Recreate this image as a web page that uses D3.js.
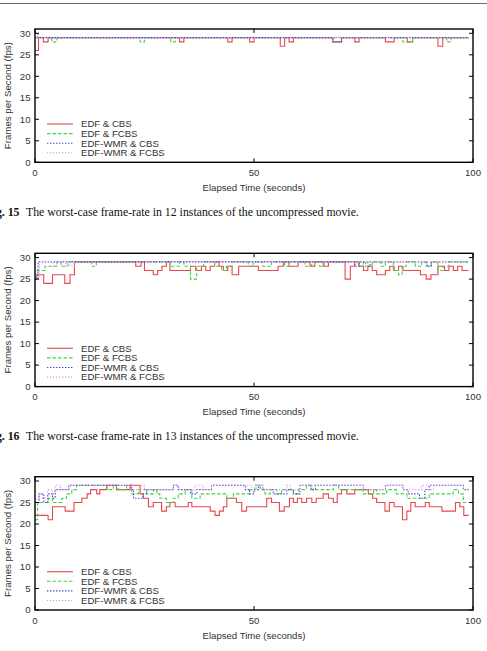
<!DOCTYPE html>
<html>
<head>
<meta charset="utf-8">
<script src="https://cdn.jsdelivr.net/npm/d3@7"></script>
<style>
  html, body { margin: 0; padding: 0; background: #fff; }
  svg { display: block; }
</style>
</head>
<body>
<svg id="page" width="487" height="651"></svg>
<script>
// step data: [seconds, fps] pairs, each value holds until the next pair
const seriesNames = ['EDF & CBS', 'EDF & FCBS', 'EDF-WMR & CBS', 'EDF-WMR & FCBS'];
const xTicks = [0, 50, 100];
const yTicks = [0, 5, 10, 15, 20, 25, 30];

const fig15_cbs = [[0,26],[0.8,29],[1.9,28],[3,29],[33,28],[34,29],[44,28],[45,29],[49,28],[50,29],[56,27],[57,29],[58,28],[59,29],[68,28],[70,29],[73,28],[74,29],[80,28],[82,29],[85,28],[86.2,29],[92,27],[93.1,29],[99,29]];
const fig15_fcbs = [[0,29],[3.8,28],[5,29],[24,28],[25,29],[31,28],[32,29],[84,28],[86.2,29],[94,28],[95,29],[99,29]];
const fig15_wmrCbs = [[0,30],[0.7,29],[68,28],[70,29],[99,29]];
const fig15_wmrFcbs = [[0,29],[99,29]];

const fig16_cbs = [[0,25],[0.4,26],[2,24],[4,26],[6.8,24],[8,26],[9,29],[23,28],[24.2,29],[25,27],[27,26],[28,27],[29,28],[30,29],[30.8,27],[35.5,28],[36.7,27],[38,28],[39,27],[40,28],[41,29],[42,28],[43,27],[44,28],[45,26],[46.5,28],[51,27],[55.5,28],[56.7,29],[58,28],[60.1,29],[62.8,28],[63.9,29],[65.8,28],[67,29],[70.8,25],[72,28],[73,29],[74,28],[75,27],[76,28],[77,27],[78,26],[80,27],[81,28],[82,27],[83,28],[84,27],[88,26],[89.3,25],[90.4,26],[92,28],[93.5,27],[94.5,28],[95.5,27],[96.5,28],[97.5,27],[99,27]];
const fig16_fcbs = [[0,26],[0.5,27],[2.3,28],[5,29],[6,28],[7.5,29],[12.9,28],[14,29],[30.8,28],[33,29],[34,28],[35.5,25],[36.9,28],[38.5,29],[41,28],[42.6,27],[43.7,28],[45,29],[48.7,28],[49.8,29],[52,28],[54,29],[57,28],[58,29],[61.6,28],[63.2,29],[65,28],[66,29],[73.8,28],[75,29],[76,28],[77,29],[79,28],[80,29],[81.8,27],[83,26],[83.8,28],[84.8,29],[86.8,28],[88.3,29],[89.3,28],[90.4,29],[92,27],[93.2,28],[94.5,29],[99,29]];
const fig16_wmrCbs = [[0,25],[0.7,29],[73,28],[74,29],[75.5,28],[76.5,29],[89.5,28],[90.5,29],[99,29]];
const fig16_wmrFcbs = [[0,25],[1,29],[4.2,28],[5,29],[6,28],[7,29],[8,28],[9,29],[99,29]];

const fig17_cbs = [[0,22],[3,21],[4,24],[6.9,23],[8.9,25],[10.7,26],[11.9,27],[12.7,28],[14.1,27],[14.8,28],[16.4,29],[18.6,28],[21.7,29],[24,27],[24.7,26],[25.9,24],[27,25],[28.9,23],[30,24],[30.8,25],[32,24],[35,25],[35.8,24],[40,23],[41.1,22],[42.1,23],[43,24],[43.8,26],[46,25],[47.2,23],[48.3,24],[52.9,26],[54,25],[55.8,23],[56.9,24],[58.1,26],[59,25],[59.9,26],[60.9,25],[62,26],[63.2,25],[64.2,26],[65.8,27],[67,26],[68.1,25],[69,27],[70,28],[71.2,27],[73,28],[76.1,27],[77.1,26],[78,25],[79.9,23],[80.9,25],[82,24],[83.9,21],[84.9,23],[85.8,25],[86.8,24],[89.1,25],[90,24],[92.9,23],[96,25],[97,24],[97.9,22],[99,22]];
const fig17_fcbs = [[0,21],[0.6,25],[3.1,26],[4,25],[6.1,26],[7.2,27],[8.4,28],[9.5,29],[16.4,28],[17.9,29],[19,28],[20.9,29],[22,27],[23.6,28],[25.5,27],[27,28],[27.8,27],[28.5,26],[30,25],[31.6,26],[32.7,27],[34.3,28],[35.8,26],[37.7,27],[43.8,26],[45.3,27],[49,28],[50.2,29],[51.4,28],[52.5,27],[53.7,28],[55.2,27],[56.3,28],[59,27],[60.1,28],[62,29],[63.2,28],[68.1,29],[69.3,28],[74.9,27],[77.3,28],[78,27],[80.3,28],[82.5,27],[84.9,26],[90,27],[95.5,28],[96.7,27],[97.8,25],[99,25]];
const fig17_wmrCbs = [[0,25],[0.9,27],[2,25],[2.9,27],[4,26],[4.6,28],[7.7,29],[22,28],[22.5,26],[24.7,27],[25.5,28],[31.6,29],[32.7,28],[35.5,27],[37,28],[40.3,29],[48,28],[49,27],[50,28],[51,29],[52,28],[54.4,27],[57.5,28],[59,27],[60.5,29],[63,28],[64,29],[75,28],[80,29],[84,28],[85.2,27],[87.8,26],[89,28],[90,29],[97.8,28],[99,28]];
const fig17_wmrFcbs = [[0,26],[0.9,27],[1.7,26],[2.9,28],[4,27],[4.6,29],[5.8,28],[7.7,29],[22,28],[24,29],[25,28],[31.6,29],[32.7,28],[36.5,29],[38.4,28],[40.3,29],[49.5,28],[50.6,29],[52,28],[57.5,29],[58.3,28],[60.5,29],[75,28],[80,29],[84,28],[88.3,29],[89.8,28],[91,29],[97.8,28],[99,28]];

const captions = [
  ['Fig. 15', 'The worst-case frame-rate in 12 instances of the uncompressed movie.'],
  ['Fig. 16', 'The worst-case frame-rate in 13 instances of the uncompressed movie.']
];

const styles = [
  {color: '#e8474d', dash: null, width: 1.1},
  {color: '#3fd63f', dash: '3.5,2', width: 1.1},
  {color: '#4545d8', dash: '1.4,1.6', width: 1.1},
  {color: '#e88ae8', dash: '1.2,1.8', width: 1.1}
];

const svg = d3.select('#page');
const left = 35, right = 473, plotH = 133.3;
const tops = [29, 253.3, 476.7];

svg.append('line')
  .attr('x1', 0).attr('x2', 487).attr('y1', 3.5).attr('y2', 3.5)
  .attr('stroke', '#6b6b6b').attr('stroke-width', 1);

function drawChart(top, data) {
  const bottom = top + plotH;
  const x = d3.scaleLinear().domain([0, 100]).range([left, right]);
  const y = d3.scaleLinear().domain([0, 31]).range([bottom, top]);
  const g = svg.append('g');
  const font = 'Liberation Sans, Arial, sans-serif';

  // series
  const line = d3.line().x(d => x(d[0])).y(d => y(d[1])).curve(d3.curveStepAfter);
  data.forEach((s, i) => {
    g.append('path').datum(s)
      .attr('d', line)
      .attr('fill', 'none')
      .attr('stroke', styles[i].color)
      .attr('stroke-width', styles[i].width)
      .attr('stroke-dasharray', styles[i].dash);
  });

  // ticks (inward, mirrored)
  const tickLen = 4;
  yTicks.forEach(v => {
    g.append('line').attr('x1', left).attr('x2', left + tickLen).attr('y1', y(v)).attr('y2', y(v)).attr('stroke', '#000');
    g.append('line').attr('x1', right).attr('x2', right - tickLen).attr('y1', y(v)).attr('y2', y(v)).attr('stroke', '#000');
    g.append('text').attr('x', left - 4.5).attr('y', y(v)).attr('dy', '0.35em')
      .attr('text-anchor', 'end').attr('font-family', font).attr('font-size', 9.6)
      .attr('fill', '#333').text(v);
  });
  xTicks.forEach(v => {
    g.append('line').attr('x1', x(v)).attr('x2', x(v)).attr('y1', bottom).attr('y2', bottom - tickLen).attr('stroke', '#000');
    g.append('line').attr('x1', x(v)).attr('x2', x(v)).attr('y1', top).attr('y2', top + tickLen).attr('stroke', '#000');
    g.append('text').attr('x', x(v)).attr('y', bottom + 13.5)
      .attr('text-anchor', 'middle').attr('font-family', font).attr('font-size', 9.6)
      .attr('fill', '#333').text(v);
  });

  // frame
  g.append('rect').attr('x', left).attr('y', top).attr('width', right - left).attr('height', plotH)
    .attr('fill', 'none').attr('stroke', '#000').attr('stroke-width', 1.4);

  // axis titles
  g.append('text').attr('x', (left + right) / 2).attr('y', bottom + 28.5)
    .attr('text-anchor', 'middle').attr('font-family', font).attr('font-size', 9.6)
    .attr('fill', '#333').text('Elapsed Time (seconds)');
  g.append('text')
    .attr('transform', `translate(10.5,${(top + bottom) / 2}) rotate(-90)`)
    .attr('text-anchor', 'middle').attr('font-family', font).attr('font-size', 9.7)
    .attr('fill', '#333').text('Frames per Second (fps)');

  // legend
  seriesNames.forEach((name, i) => {
    const ly = bottom - 38.3 + i * 9.6;
    g.append('line').attr('x1', 47).attr('x2', 73).attr('y1', ly).attr('y2', ly)
      .attr('stroke', styles[i].color).attr('stroke-width', styles[i].width)
      .attr('stroke-dasharray', styles[i].dash);
    g.append('text').attr('x', 81).attr('y', ly).attr('dy', '0.35em')
      .attr('font-family', font).attr('font-size', 9.6).attr('fill', '#333').text(name);
  });
}

drawChart(tops[0], [fig15_cbs, fig15_fcbs, fig15_wmrCbs, fig15_wmrFcbs]);
drawChart(tops[1], [fig16_cbs, fig16_fcbs, fig16_wmrCbs, fig16_wmrFcbs]);
drawChart(tops[2], [fig17_cbs, fig17_fcbs, fig17_wmrCbs, fig17_wmrFcbs]);

// captions: the page is cropped at its left edge, so "Fi" of "Fig." falls outside
captions.forEach((c, i) => {
  const by = 215.5 + i * 224.3;
  svg.append('text').attr('x', 19.5).attr('y', by).attr('text-anchor', 'end')
    .attr('font-family', 'Liberation Serif, Times New Roman, serif')
    .attr('font-size', 11.8).attr('font-weight', 'bold').attr('fill', '#111').text(c[0]);
  svg.append('text').attr('x', 26).attr('y', by)
    .attr('font-family', 'Liberation Serif, Times New Roman, serif')
    .attr('font-size', 11.8).attr('fill', '#111').text(c[1]);
});
</script>
</body>
</html>
